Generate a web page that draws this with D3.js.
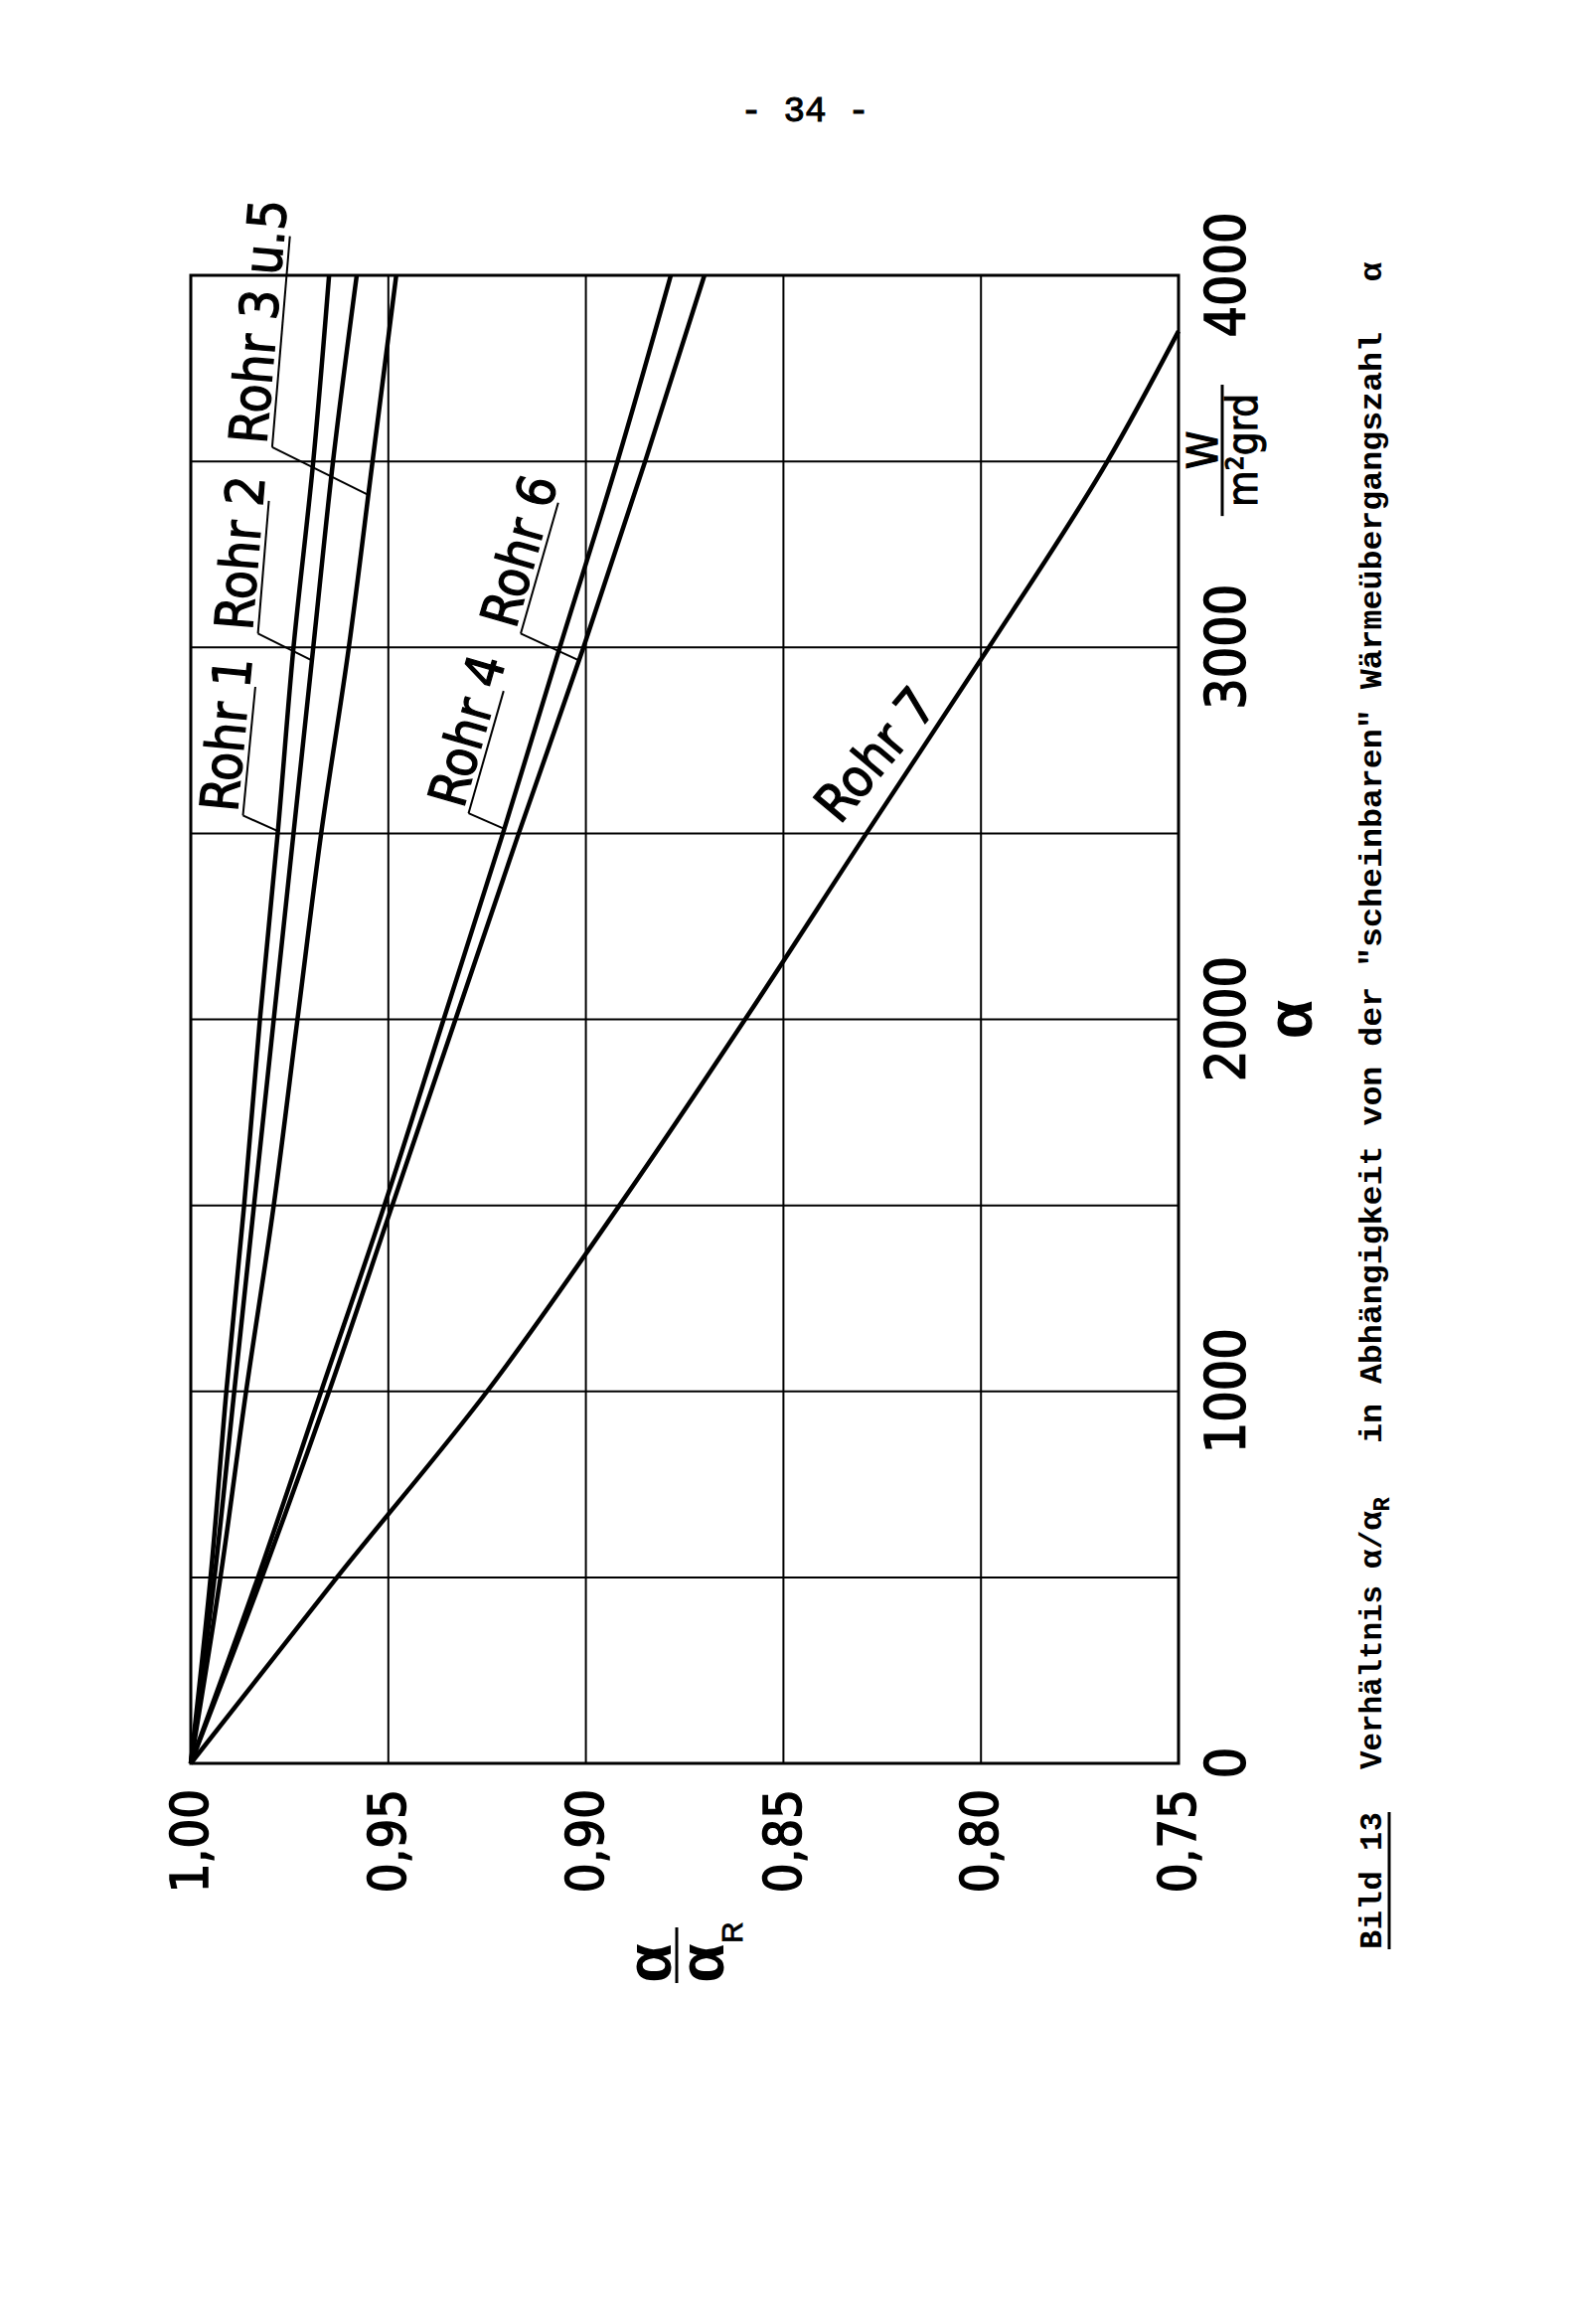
<!DOCTYPE html>
<html>
<head>
<meta charset="utf-8">
<script src="https://cdn.jsdelivr.net/npm/d3@7"></script>
<style>
body { margin: 0; background: #fff; }
</style>
</head>
<body>
<svg width="1587" height="2338"></svg>
<script>
// alpha in W/(m2 grd), ratio alpha/alphaR
var alphaValues = [0, 500, 1000, 1500, 2000, 2500, 3000, 3500, 4000];
var rohr1 = [1.000, 0.9950, 0.9910, 0.9865, 0.9825, 0.9780, 0.9740, 0.9690, 0.9650];
var rohr2 = [1.000, 0.9940, 0.9890, 0.9840, 0.9790, 0.9740, 0.9690, 0.9640, 0.9580];
var rohr35 = [1.000, 0.9925, 0.9860, 0.9790, 0.9730, 0.9670, 0.9600, 0.9540, 0.9480];
var rohr4 = [1.000, 0.9830, 0.9670, 0.9510, 0.9360, 0.9210, 0.9066, 0.8920, 0.8785];
var rohr6 = [1.000, 0.9820, 0.9650, 0.9490, 0.9330, 0.9170, 0.9006, 0.8850, 0.8700];
var rohr7Alpha = [0, 500, 1000, 1500, 2000, 2500, 3000, 3500, 3850];
var rohr7 = [1.000, 0.9630, 0.9250, 0.8915, 0.8597, 0.8290, 0.7980, 0.7680, 0.7500];

var alphaTicks = [0, 1000, 2000, 3000, 4000];
var alphaGrid = [0, 500, 1000, 1500, 2000, 2500, 3000, 3500, 4000];
var ratioTicks = [0.75, 0.80, 0.85, 0.90, 0.95, 1.00];

// label annotations: underline start (alpha, ratio), alpha where leader meets curve
var labelAnchors = [
    {text: "Rohr 1", xs: alphaValues, ys: rohr1, at: [2548, 0.9868], hit: 2506, len: 130, angle: 5.5},
    {text: "Rohr 2", xs: alphaValues, ys: rohr2, at: [3037, 0.9830], hit: 2965, len: 134, angle: 4.7},
    {text: "Rohr 3 u.5", xs: alphaValues, ys: rohr35, at: [3538, 0.9794], hit: 3410, len: 213, angle: 4.8},
    {text: "Rohr 4", xs: alphaValues, ys: rohr4, at: [2554, 0.9297], hit: 2512, len: 128, angle: 16},
    {text: "Rohr 6", xs: alphaValues, ys: rohr6, at: [3037, 0.9165], hit: 2965, len: 137, angle: 16}
];

var svg = d3.select("svg");
var narrow = "'Liberation Sans Narrow', 'DejaVu Sans Condensed', 'Liberation Sans', sans-serif";
var mono = "'Liberation Mono', 'DejaVu Sans Mono', monospace";

svg.append("rect").attr("width", 1587).attr("height", 2338).attr("fill", "#fff");

// page number
svg.append("text")
    .attr("x", 810).attr("y", 122)
    .attr("text-anchor", "middle")
    .style("font-family", mono).style("font-size", "36px")
    .attr("stroke", "#000").attr("stroke-width", 1)
    .text("- 34 -");

var W = 1497, H = 994;
// the figure is drawn turned on its side
var g = svg.append("g").attr("transform", "translate(192,1774) rotate(-90)");

var x = d3.scaleLinear().domain([0, 4000]).range([0, W]);
var y = d3.scaleLinear().domain([0.75, 1.0]).range([H, 0]);

// grid
g.append("g").selectAll("line")
    .data(alphaGrid)
    .enter().append("line")
    .attr("x1", function(d) { return x(d); })
    .attr("x2", function(d) { return x(d); })
    .attr("y1", 0).attr("y2", H)
    .attr("stroke", "#000").attr("stroke-width", 2);

g.append("g").selectAll("line")
    .data(ratioTicks)
    .enter().append("line")
    .attr("y1", function(d) { return y(d); })
    .attr("y2", function(d) { return y(d); })
    .attr("x1", 0).attr("x2", W)
    .attr("stroke", "#000").attr("stroke-width", 2);

g.append("rect")
    .attr("width", W).attr("height", H)
    .attr("fill", "none").attr("stroke", "#000").attr("stroke-width", 3);

// axes
var de = d3.formatLocale({decimal: ",", thousands: ".", grouping: [3], currency: ["", ""]});

var xAxis = g.append("g")
    .attr("transform", "translate(0," + H + ")")
    .call(d3.axisBottom(x).tickValues(alphaTicks).tickSize(0).tickPadding(27).tickFormat(d3.format("d")));
xAxis.select(".domain").remove();
xAxis.selectAll("text")
    .style("font-family", narrow).style("font-size", "55px")
    .attr("fill", "#000").attr("stroke", "#000").attr("stroke-width", 1.5);

var yAxis = g.append("g")
    .call(d3.axisLeft(y).tickValues(ratioTicks).tickSize(0).tickPadding(26).tickFormat(de.format(".2f")));
yAxis.select(".domain").remove();
yAxis.selectAll("text")
    .style("font-family", narrow).style("font-size", "52px")
    .attr("fill", "#000").attr("stroke", "#000").attr("stroke-width", 1.5);

// curves
var line = d3.line()
    .x(function(d) { return x(d[0]); })
    .y(function(d) { return y(d[1]); })
    .curve(d3.curveMonotoneX);

var series = [
    {xs: alphaValues, ys: rohr1},
    {xs: alphaValues, ys: rohr2},
    {xs: alphaValues, ys: rohr35},
    {xs: alphaValues, ys: rohr4},
    {xs: alphaValues, ys: rohr6},
    {xs: rohr7Alpha, ys: rohr7}
];

g.append("g").selectAll("path")
    .data(series)
    .enter().append("path")
    .attr("d", function(s) { return line(d3.zip(s.xs, s.ys)); })
    .attr("fill", "none")
    .attr("stroke", "#000")
    .attr("stroke-width", 4.5)
    .attr("stroke-linejoin", "round");

function valueAt(xs, ys, a) {
    var i = Math.max(1, Math.min(xs.length - 1, d3.bisectLeft(xs, a)));
    var t = (a - xs[i - 1]) / (xs[i] - xs[i - 1]);
    return ys[i - 1] + t * (ys[i] - ys[i - 1]);
}

// curve labels with underline and leader
var lab = g.append("g").selectAll("g")
    .data(labelAnchors)
    .enter().append("g");

lab.append("line")
    .attr("x1", function(d) { return x(d.at[0]); })
    .attr("y1", function(d) { return y(d.at[1]); })
    .attr("x2", function(d) { return x(d.hit); })
    .attr("y2", function(d) { return y(valueAt(d.xs, d.ys, d.hit)); })
    .attr("stroke", "#000").attr("stroke-width", 2);

var tag = lab.append("g")
    .attr("transform", function(d) {
        return "translate(" + x(d.at[0]) + "," + y(d.at[1]) + ") rotate(" + d.angle + ")";
    });
tag.append("line")
    .attr("x1", 0).attr("x2", function(d) { return d.len; })
    .attr("stroke", "#000").attr("stroke-width", 2);
tag.append("text")
    .attr("x", 2).attr("y", -6)
    .style("font-family", narrow).style("font-size", "53px")
    .attr("stroke", "#000").attr("stroke-width", 1.2)
    .text(function(d) { return d.text; });

g.append("text")
    .attr("transform", "translate(" + x(2680) + "," + y(0.8232) + ") rotate(40)")
    .attr("text-anchor", "middle")
    .style("font-family", narrow).style("font-size", "53px")
    .attr("stroke", "#000").attr("stroke-width", 1.2)
    .text("Rohr 7");

// axis titles
g.append("text")
    .attr("x", x(2000)).attr("y", 1128)
    .attr("text-anchor", "middle")
    .style("font-family", "'Liberation Sans', sans-serif").style("font-weight", "bold").style("font-size", "64px")
    .text("α");

g.append("text")
    .attr("x", x(3530)).attr("y", 1033)
    .attr("text-anchor", "middle")
    .style("font-family", narrow).style("font-size", "43px")
    .attr("stroke", "#000").attr("stroke-width", 1.2)
    .text("W");
g.append("line")
    .attr("x1", x(3353)).attr("x2", x(3706))
    .attr("y1", 1038).attr("y2", 1038)
    .attr("stroke", "#000").attr("stroke-width", 3);
g.append("text")
    .attr("x", x(3530)).attr("y", 1073)
    .attr("text-anchor", "middle")
    .attr("textLength", 114).attr("lengthAdjust", "spacingAndGlyphs")
    .style("font-family", narrow).style("font-size", "43px")
    .attr("stroke", "#000").attr("stroke-width", 1)
    .text("m²grd");

var yt = g.append("g").attr("transform", "translate(-201,0)");
yt.append("text")
    .attr("y", 483).attr("text-anchor", "middle")
    .style("font-family", "'Liberation Sans', sans-serif").style("font-weight", "bold").style("font-size", "64px")
    .text("α");
yt.append("line")
    .attr("x1", -20).attr("x2", 36).attr("y1", 489).attr("y2", 489)
    .attr("stroke", "#000").attr("stroke-width", 3);
yt.append("text")
    .attr("y", 536).attr("text-anchor", "middle")
    .style("font-family", "'Liberation Sans', sans-serif").style("font-weight", "bold").style("font-size", "64px")
    .text("α");
yt.append("text")
    .attr("x", 20).attr("y", 555)
    .style("font-family", "'Liberation Sans', sans-serif").style("font-size", "30px")
    .attr("stroke", "#000").attr("stroke-width", 0.8)
    .text("R");

// caption
var cap = g.append("g")
    .style("font-family", mono).style("font-weight", "bold").style("font-size", "32px");
cap.append("text").attr("x", -187).attr("y", 1198)
    .attr("textLength", 138).attr("lengthAdjust", "spacing").text("Bild 13");
cap.append("line")
    .attr("x1", -187).attr("x2", -49).attr("y1", 1206).attr("y2", 1206)
    .attr("stroke", "#000").attr("stroke-width", 3);
cap.append("text").attr("x", -6).attr("y", 1198)
    .attr("textLength", 185).attr("lengthAdjust", "spacingAndGlyphs").text("Verhältnis");
var ar = cap.append("text").attr("x", 196).attr("y", 1198);
ar.append("tspan").text("α/α");
ar.append("tspan").attr("dy", 8).style("font-size", "24px").text("R");
cap.append("text").attr("x", 322).attr("y", 1198)
    .attr("textLength", 1118).attr("lengthAdjust", "spacingAndGlyphs")
    .text("in Abhängigkeit von der \"scheinbaren\" Wärmeübergangszahl");
cap.append("text").attr("x", 1491).attr("y", 1198).text("α");
</script>
</body>
</html>
